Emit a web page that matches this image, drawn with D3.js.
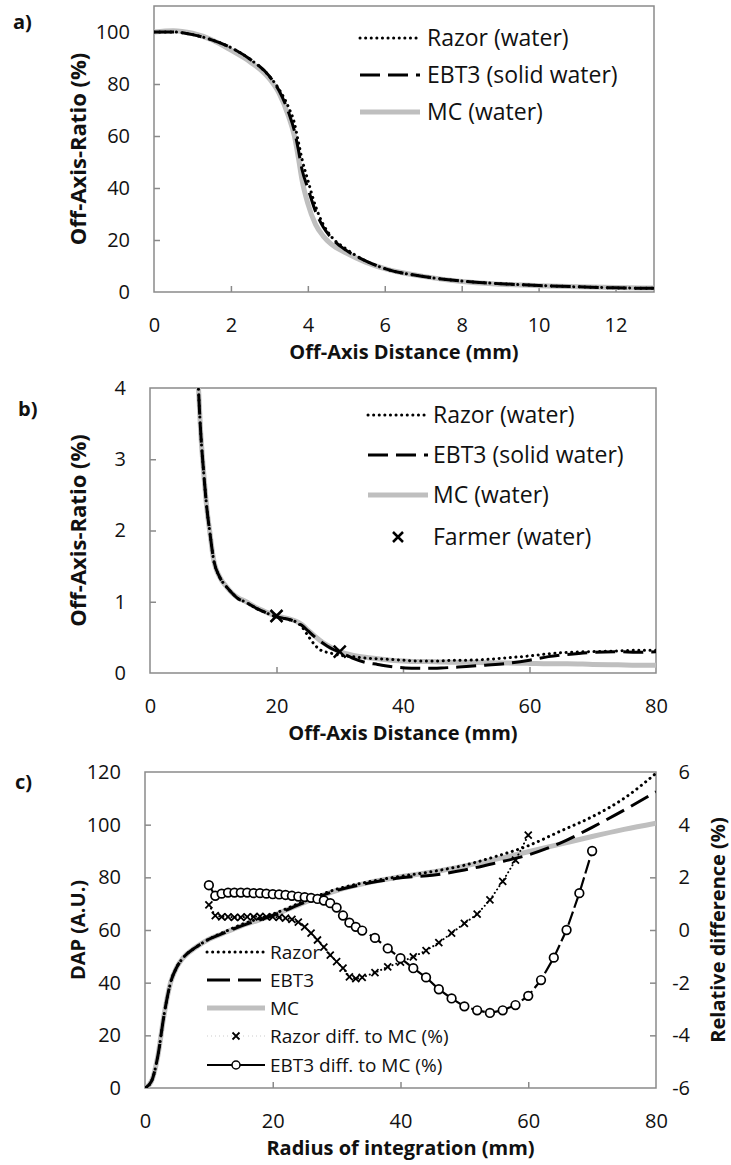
<!DOCTYPE html>
<html>
<head>
<meta charset="utf-8">
<script src="https://cdn.jsdelivr.net/npm/d3@7"></script>
<style>
  body { margin: 0; background: #fff; }
  text { font-family: "Open Sans", "Noto Sans", sans-serif; fill: #111; }
</style>
</head>
<body>
<div id="chart"></div>
<script>
// ---- panel a: profiles (Off-Axis-Ratio %, vs mm) ----
const aDist  = [0, 0.5, 1, 1.5, 2, 2.5, 3, 3.25, 3.5, 3.65, 3.75, 3.85, 4, 4.2, 4.4, 4.6, 5, 5.5, 6, 7, 8, 9, 10, 11, 12, 13];
const aRazor = [100, 100, 99, 97, 94, 89.5, 83, 78, 71, 65, 58, 51, 43, 33, 26, 21.5, 16.5, 12, 9, 6, 4.2, 3.2, 2.5, 2, 1.6, 1.4];
const aEbt3  = [100, 100, 99, 97, 94, 89.5, 83, 77.5, 69, 62, 55, 47, 40, 31, 25, 21, 16, 12, 9, 6, 4.2, 3.2, 2.5, 2, 1.6, 1.4];
const aMc    = [100, 100.5, 99.5, 97, 93, 88.5, 82, 76.5, 67.5, 60, 52, 43, 34, 26, 21.5, 18.5, 15, 11.5, 9, 6, 4, 3, 2.4, 2, 1.7, 1.5];
const aXTicks = [0, 2, 4, 6, 8, 10, 12];
const aYTicks = [0, 20, 40, 60, 80, 100];

// ---- panel b: tail of the profile ----
const bDist  = [7.5, 8, 8.5, 9, 9.5, 10, 11, 12, 13, 14, 15, 16, 17, 18, 19, 20, 21, 22, 23, 24, 25, 26, 27, 28, 29, 30,
                32, 34, 36, 38, 40, 42, 44, 46, 48, 50, 53, 56, 60, 63, 66, 70, 74, 77, 80];
const bMc    = [4.3, 3.4, 2.8, 2.3, 1.95, 1.62, 1.35, 1.22, 1.12, 1.05, 1.01, 0.96, 0.91, 0.87, 0.83, 0.8, 0.78, 0.76, 0.73, 0.68, 0.6, 0.52, 0.45, 0.39, 0.34, 0.3,
                0.25, 0.22, 0.2, 0.18, 0.17, 0.16, 0.16, 0.155, 0.15, 0.15, 0.145, 0.14, 0.135, 0.13, 0.13, 0.12, 0.115, 0.11, 0.11];
const bRazor = [4.3, 3.4, 2.8, 2.3, 1.95, 1.62, 1.35, 1.22, 1.12, 1.04, 1.0, 0.95, 0.9, 0.86, 0.82, 0.79, 0.77, 0.75, 0.72, 0.65, 0.52, 0.4, 0.32, 0.29, 0.27, 0.25,
                0.23, 0.21, 0.2, 0.19, 0.18, 0.17, 0.17, 0.17, 0.18, 0.18, 0.19, 0.21, 0.24, 0.27, 0.29, 0.3, 0.31, 0.32, 0.32];
const bEbt3  = [4.3, 3.4, 2.8, 2.3, 1.95, 1.62, 1.35, 1.22, 1.12, 1.04, 1.0, 0.95, 0.9, 0.86, 0.82, 0.79, 0.77, 0.75, 0.72, 0.67, 0.59, 0.51, 0.44, 0.38, 0.33, 0.29,
                0.21, 0.15, 0.12, 0.09, 0.075, 0.068, 0.065, 0.07, 0.08, 0.09, 0.11, 0.13, 0.18, 0.23, 0.26, 0.29, 0.3, 0.29, 0.3];
const farmerDist = [20, 30];
const farmerOar  = [0.8, 0.3];
const bXTicks = [0, 20, 40, 60, 80];
const bYTicks = [0, 1, 2, 3, 4];

// ---- panel c: DAP vs radius of integration ----
const cRadius = [0, 1, 2, 3, 4, 5, 6, 8, 10, 12, 15, 20, 25, 30, 35, 40, 45, 50, 55, 60, 65, 70, 75, 80];
const cMc     = [0, 2.5, 12, 28, 40, 46, 49.5, 53.5, 56.5, 58.5, 61.5, 65.5, 70.5, 75, 78, 80.2, 82, 84.3, 86.9, 89.7, 92.6, 95.5, 98.2, 100.6];
const cRazor  = [0, 2.5, 12, 28, 40, 46, 49.5, 53.5, 56.5, 58.8, 62, 66, 71, 75.5, 78.3, 80.4, 82.2, 84.6, 88, 92, 97.5, 103, 110, 119.5];
const cEbt3   = [0, 2.5, 12, 28, 40, 46, 49.5, 53.5, 56.5, 58.5, 61.5, 65.5, 70.5, 75, 77.8, 79.8, 80.8, 82.8, 85.5, 88.5, 93, 99, 105.5, 112.5];

const razorDiffR = [10, 11, 12, 13, 14, 15, 16, 17, 18, 19, 20, 21, 22, 23, 24, 25, 26, 27, 28, 29, 30, 31, 32, 33, 34,
                    36, 38, 40, 42, 44, 46, 48, 50, 52, 54, 56, 58, 60];
const razorDiff  = [0.95, 0.55, 0.5, 0.5, 0.48, 0.48, 0.5, 0.5, 0.52, 0.5, 0.5, 0.48, 0.45, 0.4, 0.3, 0.12, -0.12, -0.38, -0.65, -0.95, -1.2, -1.45, -1.78, -1.85, -1.8,
                    -1.62, -1.4, -1.22, -1.02, -0.78, -0.48, -0.12, 0.25, 0.6, 1.14, 1.85, 2.65, 3.6];
const ebt3DiffR  = [10, 11, 12, 13, 14, 15, 16, 17, 18, 19, 20, 21, 22, 23, 24, 25, 26, 27, 28, 29, 30, 31, 32, 33, 34,
                    36, 38, 40, 42, 44, 46, 48, 50, 52, 54, 56, 58, 60, 62, 64, 66, 68, 70];
const ebt3Diff   = [1.7, 1.3, 1.38, 1.42, 1.42, 1.42, 1.42, 1.4, 1.4, 1.38, 1.36, 1.35, 1.33, 1.3, 1.27, 1.25, 1.22, 1.18, 1.12, 1.02, 0.85, 0.55, 0.28, 0.12, -0.02,
                    -0.3, -0.7, -1.07, -1.45, -1.8, -2.25, -2.6, -2.9, -3.05, -3.15, -3.05, -2.85, -2.5, -1.9, -1.05, 0, 1.4, 3.0];
const cXTicks  = [0, 20, 40, 60, 80];
const cYTicks  = [0, 20, 40, 60, 80, 100, 120];
const cY2Ticks = [-6, -4, -2, 0, 2, 4, 6];

// ---- styles ----
const frameColor = "#8a8a8a";
const mcColor = "#bfbfbf";
const dotted = "0.1,5.5";
const dashed = "20,8";
const tickFont = 20;
const titleFont = 20;

const svg = d3.select("#chart").append("svg")
    .attr("width", 731)
    .attr("height", 1165);

let clipId = 0;

// frame + axes with inward ticks
function buildPanel(box, x, y, xTicks, yTicks, xTitle, yTitle, yTitleSize, tag, tagPos) {
    const g = svg.append("g");
    const id = "clip" + (clipId++);
    svg.append("clipPath").attr("id", id)
        .append("rect")
        .attr("x", box.left).attr("y", box.top)
        .attr("width", box.right - box.left).attr("height", box.bottom - box.top);

    g.append("rect")
        .attr("x", box.left).attr("y", box.top)
        .attr("width", box.right - box.left).attr("height", box.bottom - box.top)
        .attr("fill", "none").attr("stroke", frameColor).attr("stroke-width", 1.5);

    const xAxis = g.append("g")
        .attr("transform", `translate(0,${box.bottom})`)
        .call(d3.axisBottom(x).tickValues(xTicks).tickFormat(d => d).tickSize(-6).tickPadding(26));
    const yAxis = g.append("g")
        .attr("transform", `translate(${box.left},0)`)
        .call(d3.axisLeft(y).tickValues(yTicks).tickFormat(d => d).tickSize(-6).tickPadding(24));
    [xAxis, yAxis].forEach(a => {
        a.select(".domain").remove();
        a.selectAll("line").attr("stroke", frameColor).attr("stroke-width", 1.5);
        a.selectAll("text").style("font-size", tickFont + "px").attr("fill", "#111");
    });
    // no tick marks on the frame corners
    xAxis.selectAll(".tick").filter(d => d === x.domain()[0] || d === x.domain()[1]).select("line").remove();
    yAxis.selectAll(".tick").filter(d => d === y.domain()[0] || d === y.domain()[1]).select("line").remove();

    g.append("text")
        .attr("x", (box.left + box.right) / 2)
        .attr("y", box.bottom + 60)
        .attr("dy", "0.35em")
        .attr("text-anchor", "middle")
        .style("font-size", titleFont + "px").style("font-weight", "bold")
        .text(xTitle);
    g.append("text")
        .attr("transform", `translate(78,${(box.top + box.bottom) / 2}) rotate(-90)`)
        .attr("dy", "0.35em")
        .attr("text-anchor", "middle")
        .style("font-size", yTitleSize + "px").style("font-weight", "bold")
        .text(yTitle);
    g.append("text")
        .attr("x", tagPos[0]).attr("y", tagPos[1])
        .style("font-size", "20px").style("font-weight", "bold")
        .text(tag);

    return { g, clip: `url(#${id})` };
}

function drawLine(parent, clip, xs, ys, x, y, stroke, width, dash) {
    const line = d3.line()
        .x(d => x(d[0]))
        .y(d => y(d[1]))
        .curve(d3.curveMonotoneX);
    parent.append("path")
        .datum(d3.zip(xs, ys))
        .attr("clip-path", clip)
        .attr("d", line)
        .attr("fill", "none")
        .attr("stroke", stroke)
        .attr("stroke-width", width)
        .attr("stroke-linecap", dash === dotted ? "round" : "butt")
        .attr("stroke-dasharray", dash || null);
}

function crossMark(parent, cx, cy, r, w) {
    parent.append("path")
        .attr("d", `M${cx - r},${cy - r}L${cx + r},${cy + r}M${cx - r},${cy + r}L${cx + r},${cy - r}`)
        .attr("stroke", "#000").attr("stroke-width", w).attr("fill", "none");
}

function legendRow(parent, x0, x1, tx, yRow, label, fontSize, style) {
    if (style.line) {
        parent.append("line")
            .attr("x1", x0).attr("x2", x1).attr("y1", yRow).attr("y2", yRow)
            .attr("stroke", style.stroke).attr("stroke-width", style.width)
            .attr("stroke-linecap", style.dash === dotted ? "round" : "butt")
            .attr("stroke-dasharray", style.dash || null);
    }
    const cx = (x0 + x1) / 2;
    if (style.marker === "x") crossMark(parent, cx, yRow, style.mr, style.mw);
    if (style.marker === "o") {
        parent.append("circle").attr("cx", cx).attr("cy", yRow).attr("r", 4)
            .attr("fill", "#fff").attr("stroke", "#000").attr("stroke-width", 1.5);
    }
    parent.append("text")
        .attr("x", tx).attr("y", yRow).attr("dy", "0.35em")
        .style("font-size", fontSize + "px")
        .text(label);
}

// ---------------- panel a ----------------
const boxA = { left: 154, top: 6, right: 654, bottom: 292 };
const xA = d3.scaleLinear().domain([0, 13]).range([boxA.left, boxA.right]);
const yA = d3.scaleLinear().domain([0, 110]).range([boxA.bottom, boxA.top]);
const pA = buildPanel(boxA, xA, yA, aXTicks, aYTicks, "Off-Axis Distance (mm)", "Off-Axis-Ratio (%)", 22, "a)", [13, 29]);
drawLine(pA.g, pA.clip, aDist, aMc, xA, yA, mcColor, 5);
drawLine(pA.g, pA.clip, aDist, aEbt3, xA, yA, "#000", 3, dashed);
drawLine(pA.g, pA.clip, aDist, aRazor, xA, yA, "#000", 3, dotted);
legendRow(pA.g, 360, 420, 427, 38, "Razor (water)", 23, { line: true, stroke: "#000", width: 3, dash: dotted });
legendRow(pA.g, 360, 420, 427, 75, "EBT3 (solid water)", 23, { line: true, stroke: "#000", width: 3, dash: dashed });
legendRow(pA.g, 360, 420, 427, 112, "MC (water)", 23, { line: true, stroke: mcColor, width: 5 });

// ---------------- panel b ----------------
const boxB = { left: 150, top: 388, right: 656, bottom: 673 };
const xB = d3.scaleLinear().domain([0, 80]).range([boxB.left, boxB.right]);
const yB = d3.scaleLinear().domain([0, 4]).range([boxB.bottom, boxB.top]);
const pB = buildPanel(boxB, xB, yB, bXTicks, bYTicks, "Off-Axis Distance (mm)", "Off-Axis-Ratio (%)", 22, "b)", [18, 416]);
drawLine(pB.g, pB.clip, bDist, bMc, xB, yB, mcColor, 5);
drawLine(pB.g, pB.clip, bDist, bEbt3, xB, yB, "#000", 3, dashed);
drawLine(pB.g, pB.clip, bDist, bRazor, xB, yB, "#000", 3, dotted);
farmerDist.forEach((d, i) => crossMark(pB.g, xB(d), yB(farmerOar[i]), 6, 2.5));
legendRow(pB.g, 368, 428, 433, 415, "Razor (water)", 23, { line: true, stroke: "#000", width: 3, dash: dotted });
legendRow(pB.g, 368, 428, 433, 455, "EBT3 (solid water)", 23, { line: true, stroke: "#000", width: 3, dash: dashed });
legendRow(pB.g, 368, 428, 433, 495, "MC (water)", 23, { line: true, stroke: mcColor, width: 5 });
legendRow(pB.g, 368, 428, 433, 537, "Farmer (water)", 23, { line: false, marker: "x", mr: 5, mw: 2.5 });

// ---------------- panel c ----------------
const boxC = { left: 145, top: 772, right: 656, bottom: 1088 };
const xC = d3.scaleLinear().domain([0, 80]).range([boxC.left, boxC.right]);
const yC = d3.scaleLinear().domain([0, 120]).range([boxC.bottom, boxC.top]);
const yC2 = d3.scaleLinear().domain([-6, 6]).range([boxC.bottom, boxC.top]);
const pC = buildPanel(boxC, xC, yC, cXTicks, cYTicks, "Radius of integration (mm)", "DAP (A.U.)", 20, "c)", [15, 789]);

const rightAxis = pC.g.append("g")
    .attr("transform", `translate(${boxC.right},0)`)
    .call(d3.axisRight(yC2).tickValues(cY2Ticks).tickFormat(d => d).tickSize(-6).tickPadding(34));
rightAxis.select(".domain").remove();
rightAxis.selectAll("line").attr("stroke", frameColor).attr("stroke-width", 1.5);
rightAxis.selectAll(".tick").filter(d => d === -6 || d === 6).select("line").remove();
rightAxis.selectAll("text").style("font-size", tickFont + "px").attr("fill", "#111").attr("text-anchor", "end");
pC.g.append("text")
    .attr("transform", `translate(718,${(boxC.top + boxC.bottom) / 2}) rotate(-90)`)
    .attr("dy", "0.35em")
    .attr("text-anchor", "middle")
    .style("font-size", titleFont + "px").style("font-weight", "bold")
    .text("Relative difference (%)");

drawLine(pC.g, pC.clip, cRadius, cMc, xC, yC, mcColor, 5);
drawLine(pC.g, pC.clip, cRadius, cEbt3, xC, yC, "#000", 3, dashed);
drawLine(pC.g, pC.clip, cRadius, cRazor, xC, yC, "#000", 3, dotted);

// relative differences (right axis)
const straight = d3.line().x(d => xC(d[0])).y(d => yC2(d[1]));
pC.g.append("path")
    .datum(d3.zip(razorDiffR, razorDiff))
    .attr("d", straight)
    .attr("fill", "none").attr("stroke", "#000").attr("stroke-width", 2)
    .attr("stroke-linecap", "round").attr("stroke-dasharray", "0.1,4");
razorDiffR.forEach((r, i) => crossMark(pC.g, xC(r), yC2(razorDiff[i]), 3.5, 1.8));

pC.g.append("path")
    .datum(d3.zip(ebt3DiffR, ebt3Diff))
    .attr("d", straight)
    .attr("fill", "none").attr("stroke", "#000").attr("stroke-width", 2.2)
    .attr("stroke-dasharray", "14,4");
pC.g.selectAll("circle.ebt3")
    .data(d3.zip(ebt3DiffR, ebt3Diff))
    .join("circle")
    .attr("class", "ebt3")
    .attr("cx", d => xC(d[0])).attr("cy", d => yC2(d[1]))
    .attr("r", 4.3)
    .attr("fill", "#fff").attr("stroke", "#000").attr("stroke-width", 1.7);

legendRow(pC.g, 207, 265, 270, 952, "Razor", 19, { line: true, stroke: "#000", width: 3, dash: dotted });
legendRow(pC.g, 207, 265, 270, 980, "EBT3", 19, { line: true, stroke: "#000", width: 3, dash: "23,8" });
legendRow(pC.g, 207, 265, 270, 1008, "MC", 19, { line: true, stroke: mcColor, width: 5 });
legendRow(pC.g, 207, 265, 270, 1036, "Razor diff. to MC (%)", 19, { line: true, stroke: "#000", width: 2, dash: "0.1,4", marker: "x", mr: 3.5, mw: 1.8 });
legendRow(pC.g, 207, 265, 270, 1065, "EBT3 diff. to MC (%)", 19, { line: true, stroke: "#000", width: 2.2, marker: "o" });
</script>
</body>
</html>
